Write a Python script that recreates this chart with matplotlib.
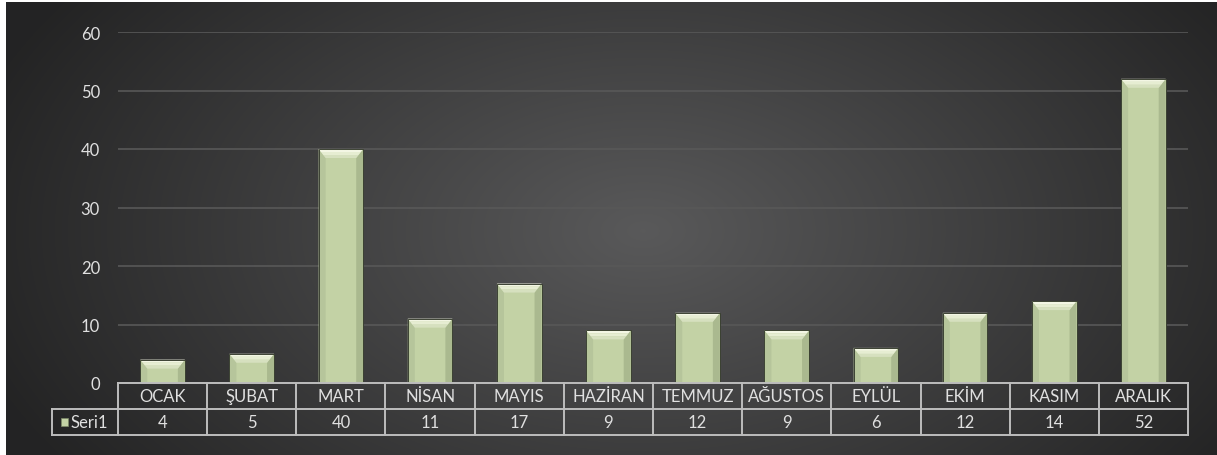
import numpy as np
import matplotlib.pyplot as plt
from matplotlib.patches import Polygon, Rectangle

# monthly values
months = ['OCAK', 'ŞUBAT', 'MART', 'NİSAN', 'MAYIS', 'HAZİRAN',
          'TEMMUZ', 'AĞUSTOS', 'EYLÜL', 'EKİM', 'KASIM', 'ARALIK']
seri1 = [4, 5, 40, 11, 17, 9, 12, 9, 6, 12, 14, 52]
series_name = 'Seri1'
yticks = [0, 10, 20, 30, 40, 50, 60]

W, H = 1217, 456
plt.rcParams['font.family'] = ['Lato', 'DejaVu Sans']
TXT = '#e0e0e0'
LINE = '#bdbdbd'
BAR = '#c3d2a5'

fig = plt.figure(figsize=(W / 100, H / 100), dpi=100)
fig.patch.set_facecolor('white')

# dark radial background
bg = fig.add_axes([0, 0, 1, 1])
bg.set_xlim(0, W)
bg.set_ylim(H, 0)
bg.axis('off')
yy, xx = np.mgrid[0:H, 0:W]
r = np.sqrt(((xx - 640) / 700.0) ** 2 + ((yy - 230) / 420.0) ** 2)
shade = np.clip(0.35 - 0.21 * r, 0.14, 0.35)
img = np.dstack([shade, shade, shade * 1.01])
bg.imshow(np.clip(img, 0, 1), extent=(6, W, H, 3), aspect='auto', zorder=0)

# plot area in pixels
px_l, px_r, px_top, px_bot = 118, 1188, 33, 384
ax = fig.add_axes([px_l / W, (H - px_bot) / H, (px_r - px_l) / W, (px_bot - px_top) / H])
ax.patch.set_alpha(0)
x = np.arange(len(months))
ax.set_xlim(-0.5, len(months) - 0.5)
ax.set_ylim(0, 60)
for s in ax.spines.values():
    s.set_visible(False)
ax.set_xticks([])
ax.set_yticks(yticks)
ax.tick_params(axis='y', length=0, pad=13, labelsize=12, labelcolor=TXT)
ax.grid(axis='y', color='#585858', linewidth=1.2)
ax.set_axisbelow(True)

bars = ax.bar(x, seri1, width=0.5, color=BAR, edgecolor='none', zorder=2)

# bevelled look on each bar
bx = 7 / ((px_r - px_l) / len(months))
by = 9 / ((px_bot - px_top) / 60)
top_shades = ['#f3f6e4', '#e6edd2', '#d6e0bf']
for rect in bars:
    x0, w, h = rect.get_x(), rect.get_width(), rect.get_height()
    x1 = x0 + w
    ax.add_patch(Polygon([(x0, 0), (x0, h), (x0 + bx, h - by), (x0 + bx, 0)],
                         closed=True, facecolor='#b6c59b', edgecolor='none', zorder=3))
    ax.add_patch(Polygon([(x1, 0), (x1, h), (x1 - bx, h - by), (x1 - bx, 0)],
                         closed=True, facecolor='#aab98f', edgecolor='none', zorder=3))
    n = len(top_shades)
    for k, c in enumerate(top_shades):
        f0, f1 = k / n, (k + 1) / n
        ax.add_patch(Polygon([(x0 + bx * f0, h - by * f0), (x1 - bx * f0, h - by * f0),
                              (x1 - bx * f1, h - by * f1), (x0 + bx * f1, h - by * f1)],
                             closed=True, facecolor=c, edgecolor='none', zorder=3))
    ax.add_patch(Rectangle((x0, 0), w, h, facecolor='none', edgecolor='#3c4233',
                           linewidth=0.7, zorder=4))

# data table under the axis
row_h = 26 / (px_bot - px_top)
head_l = (52 - px_l) / (px_r - px_l)
tr = ax.get_xaxis_transform()
kw = dict(color=LINE, linewidth=1.4, clip_on=False, zorder=5)
ax.plot([-0.5, len(months) - 0.5], [0, 0], transform=tr, **kw)
ax.plot([-0.5, len(months) - 0.5], [-row_h, -row_h], transform=tr, **kw)
ax.plot([-0.5, len(months) - 0.5], [-2 * row_h, -2 * row_h], transform=tr, **kw)
ax.plot([head_l, 0], [-row_h, -row_h], transform=ax.transAxes, **kw)
ax.plot([head_l, 0], [-2 * row_h, -2 * row_h], transform=ax.transAxes, **kw)
ax.plot([head_l, head_l], [-row_h, -2 * row_h], transform=ax.transAxes, **kw)
for i in range(len(months) + 1):
    ax.plot([i - 0.5, i - 0.5], [0, -2 * row_h], transform=tr, **kw)
for i, (m, v) in enumerate(zip(months, seri1)):
    ax.text(i, -0.5 * row_h, m, transform=tr, ha='center', va='center',
            color=TXT, fontsize=12, clip_on=False)
    ax.text(i, -1.5 * row_h, str(v), transform=tr, ha='center', va='center',
            color=TXT, fontsize=12, clip_on=False)

# legend key + series name
key_x = (61 - px_l) / (px_r - px_l)
ax.add_patch(Rectangle((key_x, -1.5 * row_h - 0.011), 0.0065, 0.022, transform=ax.transAxes,
                       facecolor=BAR, edgecolor='#7d8a68', linewidth=0.5, clip_on=False, zorder=5))
ax.text(key_x + 0.009, -1.5 * row_h, series_name, transform=ax.transAxes, ha='left',
        va='center', color=TXT, fontsize=12, clip_on=False)

fig.savefig('out.png', dpi=100, facecolor=fig.get_facecolor())
